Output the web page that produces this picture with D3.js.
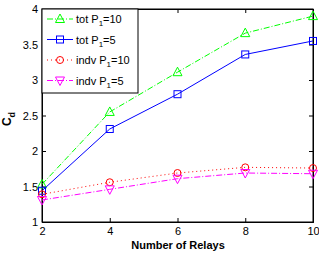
<!DOCTYPE html>
<html><head><meta charset="utf-8">
<script src="https://cdn.jsdelivr.net/npm/d3@7"></script>
<style>body{margin:0;background:#fff}svg{display:block;font-family:"Liberation Sans",Arial,sans-serif}</style>
</head><body><svg id="c" width="319" height="253"></svg>
<script>
const relays = [2, 4, 6, 8, 10];
const totP10 = [1.53, 2.55, 3.11, 3.66, 3.90];
const totP5 = [1.44, 2.31, 2.80, 3.36, 3.55];
const indvP10 = [1.39, 1.56, 1.69, 1.77, 1.76];
const indvP5 = [1.31, 1.46, 1.61, 1.69, 1.68];
const xTicks = [2, 4, 6, 8, 10];
const yTicks = [1, 1.5, 2, 2.5, 3, 3.5, 4];
const seriesNames = ["tot P1=10", "tot P1=5", "indv P1=10", "indv P1=5"];

const series = [
  {vals: totP10, color: "#00ff00", dash: "6,2,1,2", marker: "tri", sub: ["tot P", "1", "=10"]},
  {vals: totP5, color: "#0000ff", dash: null, marker: "sq", sub: ["tot P", "1", "=5"]},
  {vals: indvP10, color: "#ff0000", dash: "1,3", marker: "circ", sub: ["indv P", "1", "=10"]},
  {vals: indvP5, color: "#ff00ff", dash: "6,2,1,2", marker: "tridown", sub: ["indv P", "1", "=5"]}
];

const svg = d3.select("#c");
const L = 42, R = 313, T = 9, B = 222;
const x = d3.scaleLinear().domain([2, 10]).range([L, R]);
const y = d3.scaleLinear().domain([1, 4]).range([B, T]);

svg.append("rect").attr("x", L).attr("y", T).attr("width", R - L).attr("height", B - T)
  .attr("fill", "#fff").attr("stroke", "#000").attr("stroke-width", 1);

const fs = 11;
const xa = svg.append("g").attr("transform", `translate(0,${B})`)
  .call(d3.axisBottom(x).tickValues(xTicks).tickSize(-4).tickPadding(5).tickFormat(d3.format("d")));
const xa2 = svg.append("g").attr("transform", `translate(0,${T})`)
  .call(d3.axisTop(x).tickValues(xTicks).tickSize(-4).tickFormat(""));
const ya = svg.append("g").attr("transform", `translate(${L},0)`)
  .call(d3.axisLeft(y).tickValues(yTicks).tickSize(-4).tickPadding(4).tickFormat(d3.format("")));
const ya2 = svg.append("g").attr("transform", `translate(${R},0)`)
  .call(d3.axisRight(y).tickValues(yTicks).tickSize(-4).tickFormat(""));
[xa, xa2, ya, ya2].forEach(g => {
  g.select(".domain").attr("stroke", "#000");
  g.selectAll(".tick line").attr("stroke", "#000");
  g.selectAll("text").attr("font-size", fs).attr("fill", "#000").attr("font-family", "Liberation Sans, Arial, sans-serif");
});

const line = d3.line().x((d, i) => x(relays[i])).y(d => y(d));

function marker(g, type, cx, cy, color) {
  const s = 4.5;
  if (type === "tri") {
    g.append("path").attr("d", `M${cx},${cy - s - 0.5}L${cx + s},${cy + s - 1}L${cx - s},${cy + s - 1}Z`)
      .attr("fill", "none").attr("stroke", color);
  } else if (type === "tridown") {
    g.append("path").attr("d", `M${cx},${cy + s + 0.5}L${cx + s},${cy - s + 1}L${cx - s},${cy - s + 1}Z`)
      .attr("fill", "none").attr("stroke", color);
  } else if (type === "sq") {
    g.append("rect").attr("x", cx - 3.5).attr("y", cy - 3.5).attr("width", 7).attr("height", 7)
      .attr("fill", "none").attr("stroke", color);
  } else {
    g.append("circle").attr("cx", cx).attr("cy", cy).attr("r", 3.5)
      .attr("fill", "none").attr("stroke", color);
  }
}

series.forEach(s => {
  const g = svg.append("g");
  g.append("path").datum(s.vals).attr("d", line).attr("fill", "none")
    .attr("stroke", s.color).attr("stroke-width", 1)
    .attr("stroke-dasharray", s.dash);
  s.vals.forEach((v, i) => marker(g, s.marker, x(relays[i]), y(v), s.color));
});

const lg = svg.append("g");
lg.append("rect").attr("x", L).attr("y", T).attr("width", 96).attr("height", 84)
  .attr("fill", "#fff").attr("stroke", "#000");
const rowY = [19, 39.5, 60, 80.5];
series.forEach((s, i) => {
  const yy = rowY[i];
  lg.append("line").attr("x1", 47).attr("x2", 73).attr("y1", yy).attr("y2", yy)
    .attr("stroke", s.color).attr("stroke-dasharray", s.dash);
  marker(lg, s.marker, 60, yy, s.color);
  const t = lg.append("text").attr("x", 76).attr("y", yy + 4).attr("font-size", fs).attr("fill", "#000");
  t.append("tspan").text(s.sub[0]);
  t.append("tspan").attr("font-size", 8).attr("dy", 3).text(s.sub[1]);
  t.append("tspan").attr("dy", -3).text(s.sub[2]);
});

svg.append("text").attr("x", 178).attr("y", 249).attr("text-anchor", "middle")
  .attr("font-size", 11).attr("font-weight", "bold").text("Number of Relays");
const yl = svg.append("text").attr("transform", "translate(11,119) rotate(-90)")
  .attr("text-anchor", "middle").attr("font-size", 12).attr("font-weight", "bold");
yl.append("tspan").text("C");
yl.append("tspan").attr("font-size", 9).attr("dy", 4).text("d");
</script></body></html>
